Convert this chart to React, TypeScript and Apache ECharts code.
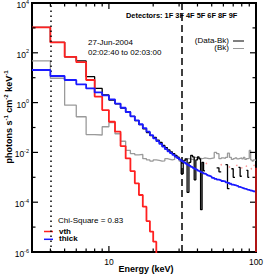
import React, { useEffect, useRef } from 'react';
import * as echarts from 'echarts';

// Energy bin edges (keV): 1 keV bins 3-50, 2 keV bins 50-100
const binEdges = [3, 4, 5, 6, 7, 8, 9, 10, 11, 12, 13, 14, 15, 16, 17, 18, 19, 20,
  21, 22, 23, 24, 25, 26, 27, 28, 29, 30, 31, 32, 33, 34, 35, 36, 37, 38, 39, 40,
  41, 42, 43, 44, 45, 46, 47, 48, 49, 50,
  52, 54, 56, 58, 60, 62, 64, 66, 68, 70, 72, 74, 76, 78, 80, 82, 84, 86, 88, 90, 92, 94, 96, 98, 100];

// Data - Background (photons s^-1 cm^-2 keV^-1)
const dataMinusBk = [1050, 263, 69, 47, 11.0, 3.7, 2.04, 1.26, 0.89, 0.60, 0.42, 0.28, 0.19, 0.13, 0.089, 0.063, 0.047,
  0.040, 0.031, 0.025, 0.019, 0.0155, 0.0125, 0.0105, 9.0e-3, 7.6e-3, 6.5e-3,
  5.2e-3, 1.4e-3, 4.6e-3, 5.5e-3, 2.5e-4, 4.0e-3, 7.6e-3, 6.6e-3, 7.9e-4, 5.0e-3,
  6.6e-3, 5.5e-3, 5.0e-5, 4.0e-3, 1.8e-3, null, null, null, null, null,
  null, null, 2.4e-3, 1.66e-3, null, null, 3.2e-3, 3.5e-4, null, 2.2e-3, 1.0e-3, null, null,
  2.5e-3, 1.1e-3, null, null, null, 1.9e-3, 1.0e-3, null, null, null, null, null];

// Background
const background = [47, 9.5, 0.79, 0.27, 0.052, 0.050, 0.107, 0.158, 0.056, 0.028, 0.012, 8.9e-3, 7.9e-3, 8.3e-3, 5.6e-3, 5.0e-3, 4.5e-3,
  5.0e-3, 4.8e-3, 4.5e-3, 4.6e-3, 5.6e-3, 5.3e-3, 5.0e-3, 5.2e-3, 6.6e-3, 6.2e-3,
  4.5e-3, 4.7e-3, 5.0e-3, 5.2e-3, 5.6e-3, 5.4e-3, 5.2e-3, 5.0e-3, 6.3e-3, 6.0e-3,
  6.0e-3, 5.8e-3, 5.6e-3, 5.7e-3, 6.0e-3, 5.9e-3, 5.8e-3, 5.6e-3, 5.6e-3, 5.8e-3,
  6.0e-3, 1.0e-2, 8.9e-3, 5.6e-3, 6.0e-3, 5.8e-3, 6.3e-3, 9.3e-3, 6.3e-3, 5.2e-3, 5.6e-3, 6.0e-3, 5.5e-3,
  5.8e-3, 6.0e-3, 5.5e-3, 6.3e-3, 5.2e-3, 5.6e-3, 5.8e-3, 1.2e-2, 5.0e-3, 4.5e-3, 5.0e-3, 4.8e-3];

// Thermal model (vth); bins beyond the list are below the plot
const vth = [1050, 263, 69, 42, 8.1, 1.74, 0.50, 0.17, 0.068, 0.018, 5.75e-3, 1.78e-3, 5.75e-4, 1.95e-4, 6.6e-5, 1.74e-5, 6.6e-6,
  2.6e-6, 1e-7];

// Thick-target model
const thick = [20.4, 11.7, 8.1, 5.4, 3.7, 2.57, 1.95, 1.35, 0.91, 0.62, 0.42, 0.28, 0.195, 0.135, 0.095, 0.068, 0.049,
  0.0363, 0.0282, 0.0219, 0.0170, 0.0135, 0.0110, 9.3e-3, 7.9e-3, 6.8e-3, 5.9e-3,
  5.1e-3, 4.5e-3, 4.0e-3, 3.55e-3, 3.16e-3, 2.9e-3, 2.6e-3, 2.4e-3, 2.2e-3, 2.04e-3,
  1.86e-3, 1.74e-3, 1.62e-3, 1.51e-3, 1.41e-3, 1.35e-3, 1.26e-3, 1.17e-3, 1.12e-3, 1.05e-3,
  9.5e-4, 8.7e-4, 8.1e-4, 7.6e-4, 7.1e-4, 6.8e-4, 6.3e-4, 5.9e-4, 5.5e-4, 5.1e-4, 4.9e-4, 4.6e-4, 4.4e-4,
  4.1e-4, 3.9e-4, 3.7e-4, 3.5e-4, 3.4e-4, 3.2e-4, 3.1e-4, 2.95e-4, 2.9e-4, 2.75e-4, 2.7e-4, 2.6e-4];

// faint model residual points at high energy
const residE = [46, 58, 66, 74, 80, 86, 93, 97];
const residV = [3.6e-3, 3.2e-3, 2.6e-3, 3.0e-3, 2.4e-3, 2.8e-3, 2.2e-3, 3.0e-3];

// clipped model trace along the upper energy limit
const edgeTraceE = [100, 100];
const edgeTraceV = [2.4e-3, 1e-6];

// fit range markers (keV)
const fitRange = [4, 31.5];

// axes
const xRange = [3, 100];
const yRange = [1e-6, 1e4];
const xMajorTicks = [10, 100];
const xMinorTicks = [4, 5, 6, 7, 8, 9, 20, 30, 40, 50, 60, 70, 80, 90];
const yMajorTicks = [1e-6, 1e-4, 1e-2, 1, 1e2, 1e4];
const yMinorTicks = [1e-5, 1e-3, 1e-1, 1e1, 1e3];

const FONT = '"Liberation Sans", Arial, Helvetica, sans-serif';

function histogram(edges: number[], values: (number | null)[]) {
  const pts: any[] = [];
  for (let i = 0; i < values.length; i++) {
    const v = values[i];
    if (v == null) {
      pts.push([edges[i], '-']);
      continue;
    }
    pts.push([edges[i], v]);
    pts.push([edges[i + 1], v]);
  }
  return pts;
}

function expOf(v: number) {
  return Math.round(Math.log10(v));
}

export default function App() {
  const ref = useRef<HTMLDivElement>(null);
  useEffect(() => {
    if (!ref.current) return;
    const chart = echarts.init(ref.current, null, { renderer: 'svg' });

    const tickItems: any[] = [];
    xMajorTicks.forEach((v) => tickItems.push([v, yRange[0], 0]));
    xMinorTicks.forEach((v) => tickItems.push([v, yRange[0], 1]));
    yMajorTicks.forEach((v) => tickItems.push([xRange[0], v, 2]));
    yMinorTicks.forEach((v) => tickItems.push([xRange[0], v, 3]));

    const supRich = {
      a: { fontSize: 8.5, fontFamily: FONT, color: '#000', verticalAlign: 'bottom', lineHeight: 11 },
      s: { fontSize: 5.5, fontFamily: FONT, color: '#000', verticalAlign: 'bottom', lineHeight: 7, padding: [0, 0, 5, 0] },
    };

    const tickStroke = { stroke: '#000', lineWidth: 1.2 };

    const option: any = {
      animation: false,
      grid: {
        left: 32, top: 3, width: 224, height: 249,
        show: true, borderColor: '#000', borderWidth: 2, backgroundColor: 'transparent',
      },
      xAxis: {
        type: 'log', logBase: 10, min: xRange[0], max: xRange[1],
        axisLine: { show: false }, axisTick: { show: false }, splitLine: { show: false },
        axisLabel: { show: false },
      },
      yAxis: {
        type: 'log', logBase: 10, min: yRange[0], max: yRange[1],
        axisLine: { show: false }, axisTick: { show: false }, splitLine: { show: false },
        axisLabel: { show: false },
      },
      series: [
        {
          name: '(Bk)', type: 'line', data: histogram(binEdges, background),
          showSymbol: false, symbol: 'none', connectNulls: false,
          lineStyle: { color: '#9a9a9a', width: 1.3 }, z: 2,
          markLine: {
            silent: true, symbol: ['none', 'none'], label: { show: false },
            data: [
              { xAxis: fitRange[0], lineStyle: { color: '#000', width: 1.5, type: [1.5, 3.5] } },
              { xAxis: fitRange[1], lineStyle: { color: '#000', width: 1.5, type: [7, 4] } },
            ],
          },
        },
        {
          name: '(Data-Bk)', type: 'line', data: histogram(binEdges, dataMinusBk),
          showSymbol: false, symbol: 'none', connectNulls: false,
          lineStyle: { color: '#000', width: 1.3 }, z: 3,
        },
        {
          name: 'vth', type: 'line', data: histogram(binEdges, vth),
          showSymbol: false, symbol: 'none', connectNulls: false,
          lineStyle: { color: '#ff2020', width: 1.8 }, z: 4,
        },
        {
          name: 'thick', type: 'line', data: histogram(binEdges, thick),
          showSymbol: false, symbol: 'none', connectNulls: false,
          lineStyle: { color: '#1a1aff', width: 1.8 }, z: 5,
        },
        {
          name: 'resid', type: 'scatter', data: residE.map((e, i) => [e, residV[i]]),
          symbolSize: 1.6, itemStyle: { color: '#ff8080' }, z: 3,
        },
        {
          name: 'edge', type: 'line', data: edgeTraceE.map((e, i) => [e, edgeTraceV[i]]),
          showSymbol: false, symbol: 'none', clip: false, lineStyle: { color: '#b01515', width: 2 }, z: 20,
        },
        {
          name: 'ticks', type: 'custom', data: tickItems, z: 10, silent: true, clip: false,
          encode: { x: 0, y: 1 },
          renderItem: (params: any, api: any) => {
            const kind = api.value(2);
            const children: any[] = [];
            if (kind < 2) {
              const v = api.value(0);
              const pb = api.coord([v, yRange[0]]);
              const pt = api.coord([v, yRange[1]]);
              const len = kind === 0 ? 6 : 3.5;
              children.push({ type: 'line', shape: { x1: pb[0], y1: pb[1], x2: pb[0], y2: pb[1] - len }, style: tickStroke });
              children.push({ type: 'line', shape: { x1: pt[0], y1: pt[1], x2: pt[0], y2: pt[1] + len }, style: tickStroke });
              if (kind === 0) {
                children.push({
                  type: 'text', x: pb[0], y: pb[1] + 5,
                  style: { text: String(v), fontSize: 8.5, fontFamily: FONT, fill: '#000', align: 'center', verticalAlign: 'top' },
                });
              }
            } else {
              const v = api.value(1);
              const pl = api.coord([xRange[0], v]);
              const pr = api.coord([xRange[1], v]);
              const len = kind === 2 ? 6 : 3.5;
              children.push({ type: 'line', shape: { x1: pl[0], y1: pl[1], x2: pl[0] + len, y2: pl[1] }, style: tickStroke });
              children.push({ type: 'line', shape: { x1: pr[0], y1: pr[1], x2: pr[0] - len, y2: pr[1] }, style: tickStroke });
              if (kind === 2) {
                children.push({
                  type: 'text', x: pl[0] - 3, y: pl[1] + 1,
                  style: { text: `{a|10}{s|${expOf(v)}}`, rich: supRich, align: 'right', verticalAlign: 'middle' },
                });
              }
            }
            return { type: 'group', children };
          },
        },
      ],
      graphic: [
        {
          type: 'text', x: 8, y: 117, rotation: Math.PI / 2,
          style: {
            text: '{a|photons s}{s|-1}{a| cm}{s|-2}{a| keV}{s|-1}',
            rich: {
              a: { fontSize: 9, fontWeight: 'bold', fontFamily: FONT, fill: '#000', verticalAlign: 'bottom', lineHeight: 11 },
              s: { fontSize: 6, fontWeight: 'bold', fontFamily: FONT, fill: '#000', verticalAlign: 'bottom', lineHeight: 7, padding: [0, 0, 5, 0] },
            },
            align: 'center', verticalAlign: 'middle',
          },
        },
        {
          type: 'text', x: 146, y: 269,
          style: { text: 'Energy (keV)', fontSize: 9, fontWeight: 'bold', fontFamily: FONT, fill: '#000', align: 'center', verticalAlign: 'middle' },
        },
        {
          type: 'text', x: 126, y: 15,
          style: { text: 'Detectors: 1F 3F 4F 5F 6F 8F 9F', fontSize: 7.4, fontWeight: 'bold', fontFamily: FONT, fill: '#000', align: 'left', verticalAlign: 'middle' },
        },
        {
          type: 'text', x: 88, y: 42,
          style: { text: '27-Jun-2004', fontSize: 8, fontFamily: FONT, fill: '#000', align: 'left', verticalAlign: 'middle' },
        },
        {
          type: 'text', x: 88, y: 52,
          style: { text: '02:02:40 to 02:03:00', fontSize: 8, fontFamily: FONT, fill: '#000', align: 'left', verticalAlign: 'middle' },
        },
        {
          type: 'text', x: 229, y: 40,
          style: { text: '(Data-Bk)', fontSize: 8, fontFamily: FONT, fill: '#000', align: 'right', verticalAlign: 'middle' },
        },
        { type: 'line', shape: { x1: 233, y1: 41, x2: 244, y2: 41 }, style: { stroke: '#000', lineWidth: 1 } },
        {
          type: 'text', x: 229, y: 47.5,
          style: { text: '(Bk)', fontSize: 8, fontFamily: FONT, fill: '#000', align: 'right', verticalAlign: 'middle' },
        },
        { type: 'line', shape: { x1: 233, y1: 48.5, x2: 244, y2: 48.5 }, style: { stroke: '#9a9a9a', lineWidth: 1 } },
        {
          type: 'text', x: 58, y: 220,
          style: { text: 'Chi-Square = 0.83', fontSize: 8, fontFamily: FONT, fill: '#000', align: 'left', verticalAlign: 'middle' },
        },
        { type: 'line', shape: { x1: 44, y1: 231.5, x2: 53, y2: 231.5 }, style: { stroke: '#ff2020', lineWidth: 1.5 } },
        {
          type: 'text', x: 59, y: 231,
          style: { text: 'vth', fontSize: 8, fontWeight: 'bold', fontFamily: FONT, fill: '#000', align: 'left', verticalAlign: 'middle' },
        },
        { type: 'line', shape: { x1: 44, y1: 239.3, x2: 53, y2: 239.3 }, style: { stroke: '#1a1aff', lineWidth: 1.5 } },
        {
          type: 'text', x: 59, y: 238.5,
          style: { text: 'thick', fontSize: 8, fontWeight: 'bold', fontFamily: FONT, fill: '#000', align: 'left', verticalAlign: 'middle' },
        },
      ],
    };

    chart.setOption(option);
    return () => chart.dispose();
  }, []);

  return <div ref={ref} style={{ position: 'absolute', left: 0, top: 0, width: 264, height: 275 }} />;
}
